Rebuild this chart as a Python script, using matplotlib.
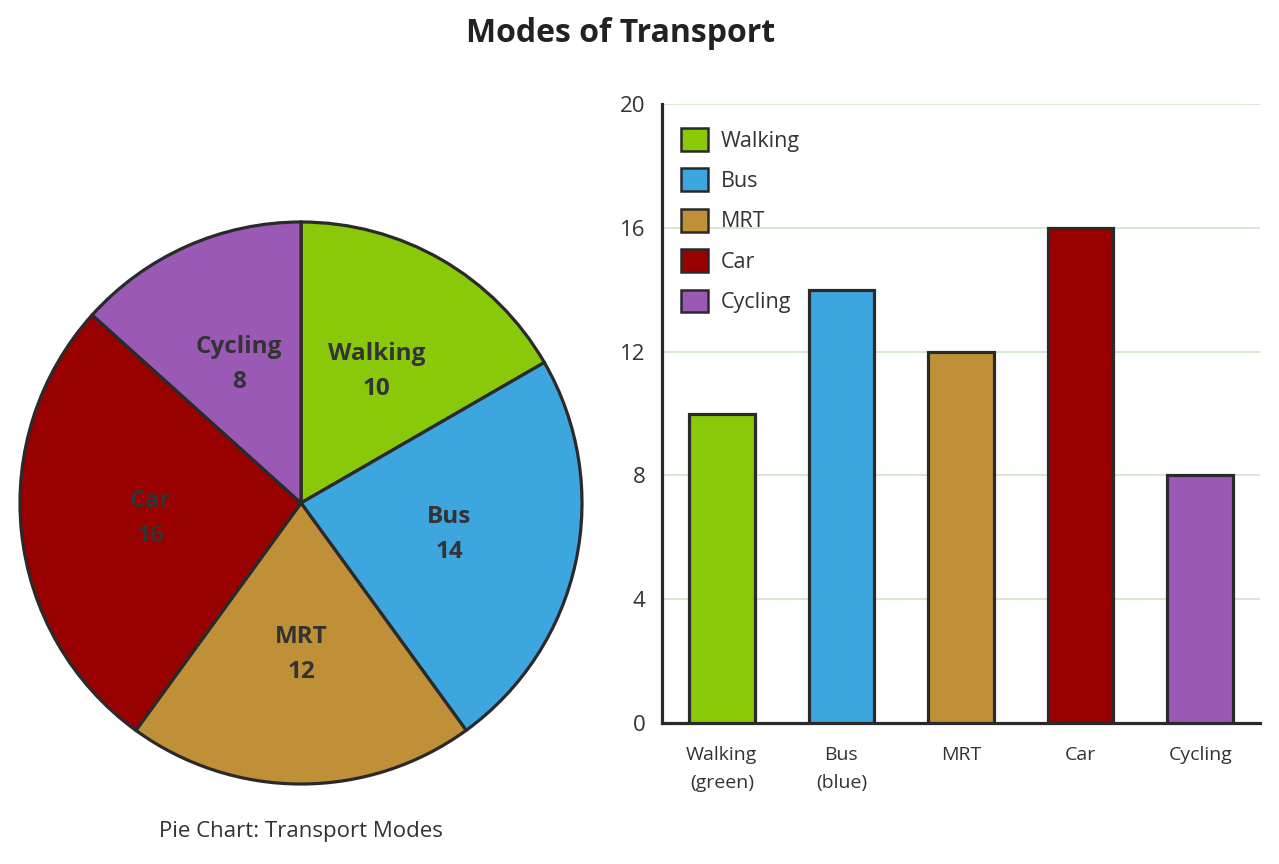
import matplotlib
matplotlib.use("Agg")
import matplotlib.pyplot as plt
from matplotlib.patches import Patch

plt.rcParams['font.family'] = ['Open Sans', 'DejaVu Sans']

categories = ["Walking", "Bus", "MRT", "Car", "Cycling"]
values = [10, 14, 12, 16, 8]
colors = ["#8AC80A", "#3EA6DF", "#BF9037", "#990000", "#9B59B6"]
bar_tick_labels = ["Walking\n(green)", "Bus\n(blue)", "MRT", "Car", "Cycling"]
y_ticks = [0, 4, 8, 12, 16, 20]

W, H = 1279, 864
fig = plt.figure(figsize=(W / 100, H / 100), dpi=100)
edge = "#2a2a2a"
txt = "#333333"

fig.text(621 / W, 1 - 33 / H, "Modes of Transport", ha="center", va="center",
         fontsize=23, fontweight="bold", color="#222222")

# Pie
axp = fig.add_axes([20 / W, (H - 784) / H, 562 / W, 562 / H])
wedges, texts = axp.pie(values, colors=colors, startangle=90, counterclock=False,
                        labels=[f"{c}\n{v}" for c, v in zip(categories, values)],
                        labeldistance=0.54,
                        wedgeprops=dict(edgecolor=edge, linewidth=2.3, clip_on=False),
                        textprops=dict(fontsize=17.5, fontweight="bold", color=txt,
                                       ha="center", va="center", linespacing=1.6))
for t in texts:
    t.set_horizontalalignment("center")
axp.set_xlim(-1, 1)
axp.set_ylim(-1, 1)
axp.set_aspect("equal")
axp.axis("off")
fig.text(301 / W, 1 - 832 / H, "Pie Chart: Transport Modes", ha="center", va="center",
         fontsize=16, color=txt)

# Bar
axb = fig.add_axes([662 / W, (H - 723) / H, 598 / W, 619 / H])
x = list(range(len(categories)))
axb.bar(x, values, width=0.55, color=colors, edgecolor=edge, linewidth=2.3, zorder=3)
axb.set_xlim(-0.5, 4.5)
axb.set_ylim(0, 20)
axb.set_yticks(y_ticks)
axb.set_xticks(x)
axb.set_xticklabels(bar_tick_labels, linespacing=1.72)
axb.tick_params(axis="both", length=0, colors=txt)
axb.tick_params(axis="y", labelsize=16, pad=12)
axb.tick_params(axis="x", labelsize=14, pad=16.5)
axb.yaxis.grid(True, color="#d6e9d0", linewidth=1.4, zorder=0)
axb.set_axisbelow(True)
for s in ["top", "right"]:
    axb.spines[s].set_visible(False)
for s in ["left", "bottom"]:
    axb.spines[s].set_linewidth(2.3)
    axb.spines[s].set_color(edge)

handles = [Patch(facecolor=c, edgecolor=edge, linewidth=1.8, label=l)
           for c, l in zip(colors, categories)]
axb.legend(handles=handles, loc="upper left", bbox_to_anchor=(19 / 598, 1 - 24 / 619),
           frameon=False, fontsize=15.5, handlelength=1.25, handleheight=1.25,
           labelspacing=0.78, handletextpad=0.6, borderpad=0, borderaxespad=0,
           labelcolor=txt)

fig.savefig("out.png", dpi=100)
